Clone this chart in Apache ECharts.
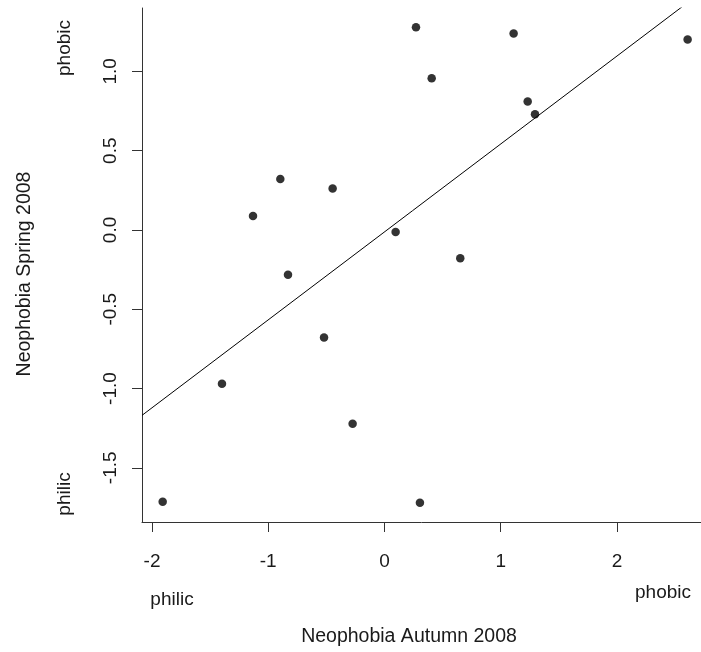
<!DOCTYPE html>
<html>
<head>
<meta charset="utf-8">
<script src="https://cdn.jsdelivr.net/npm/echarts@6/dist/echarts.min.js"></script>
<style>
  html, body { margin: 0; padding: 0; background: #fff; }
  #chart { width: 701px; height: 652px; }
</style>
</head>
<body>
<div id="chart"></div>
<script>
// Neophobia scores per individual: autumn (x) vs spring (y), 2008
const autumn = [0.271, 1.111, 2.608, 0.406, 1.232, 1.295, -0.896, -0.446, -1.131,
                0.096, 0.652, -0.830, -0.520, -0.274, 0.305, -1.398, -1.908];
const spring = [1.279, 1.239, 1.201, 0.957, 0.810, 0.730, 0.322, 0.261, 0.088,
                -0.013, -0.179, -0.282, -0.679, -1.222, -1.720, -0.970, -1.714];

const xTicks = [-2, -1, 0, 1, 2];
const yTicks = [-1.5, -1.0, -0.5, 0.0, 0.5, 1.0];

const xRange = [-2.086, 2.723];
const yRange = [-1.842, 1.40];

// Least-squares fit of spring on autumn
function fit(xs, ys) {
  const n = xs.length;
  const mx = xs.reduce((a, b) => a + b, 0) / n;
  const my = ys.reduce((a, b) => a + b, 0) / n;
  let sxy = 0, sxx = 0;
  for (let i = 0; i < n; i++) {
    sxy += (xs[i] - mx) * (ys[i] - my);
    sxx += (xs[i] - mx) * (xs[i] - mx);
  }
  const slope = sxy / sxx;
  return { slope, intercept: my - slope * mx };
}
const lm = fit(autumn, spring);
const fitLine = xRange.map(x => [x, lm.intercept + lm.slope * x]);

const points = autumn.map((x, i) => [x, spring[i]]);

const FONT = 'Liberation Sans, Arial, sans-serif';
const TXT = '#1a1a1a';
const AX = '#333';

const chart = echarts.init(document.getElementById('chart'), null, { renderer: 'canvas' });
chart.setOption({
  animation: false,
  backgroundColor: '#fff',
  grid: { left: 142, right: 0, top: 8, bottom: 130, containLabel: false },
  xAxis: {
    type: 'value',
    min: xRange[0], max: xRange[1],
    splitLine: { show: false },
    axisLine: { show: true, onZero: false, lineStyle: { color: AX, width: 1 } },
    axisTick: { show: true, length: 10, lineStyle: { color: AX }, customValues: xTicks },
    axisLabel: {
      customValues: xTicks, margin: 30, color: TXT, fontSize: 19, fontFamily: FONT,
      formatter: v => String(v)
    }
  },
  yAxis: {
    type: 'value',
    min: yRange[0], max: yRange[1],
    splitLine: { show: false },
    axisLine: { show: true, onZero: false, lineStyle: { color: AX, width: 1 } },
    axisTick: { show: true, length: 10, lineStyle: { color: AX }, customValues: yTicks },
    axisLabel: {
      customValues: yTicks, rotate: 90, margin: 22, color: TXT, fontSize: 19, fontFamily: FONT,
      formatter: v => v.toFixed(1)
    }
  },
  series: [
    {
      type: 'line',
      data: fitLine,
      showSymbol: false,
      clip: true,
      lineStyle: { color: '#000', width: 1 },
      z: 2
    },
    {
      type: 'scatter',
      data: points,
      symbol: 'circle',
      symbolSize: 8.5,
      itemStyle: { color: '#000' },
      z: 3
    }
  ],
  graphic: [
    { type: 'text', x: 409, y: 637, style: { text: 'Neophobia Autumn 2008', fill: TXT, font: '19.5px ' + FONT, align: 'center', verticalAlign: 'middle' } },
    { type: 'text', x: 25, y: 274, rotation: Math.PI / 2, style: { text: 'Neophobia Spring 2008', fill: TXT, font: '19.5px ' + FONT, align: 'center', verticalAlign: 'middle' } },
    { type: 'text', x: 65, y: 48, rotation: Math.PI / 2, style: { text: 'phobic', fill: TXT, font: '19px ' + FONT, align: 'center', verticalAlign: 'middle' } },
    { type: 'text', x: 65, y: 494, rotation: Math.PI / 2, style: { text: 'philic', fill: TXT, font: '19px ' + FONT, align: 'center', verticalAlign: 'middle' } },
    { type: 'text', x: 172, y: 600, style: { text: 'philic', fill: TXT, font: '19px ' + FONT, align: 'center', verticalAlign: 'middle' } },
    { type: 'text', x: 663, y: 593, style: { text: 'phobic', fill: TXT, font: '19px ' + FONT, align: 'center', verticalAlign: 'middle' } }
  ]
});
</script>
</body>
</html>
